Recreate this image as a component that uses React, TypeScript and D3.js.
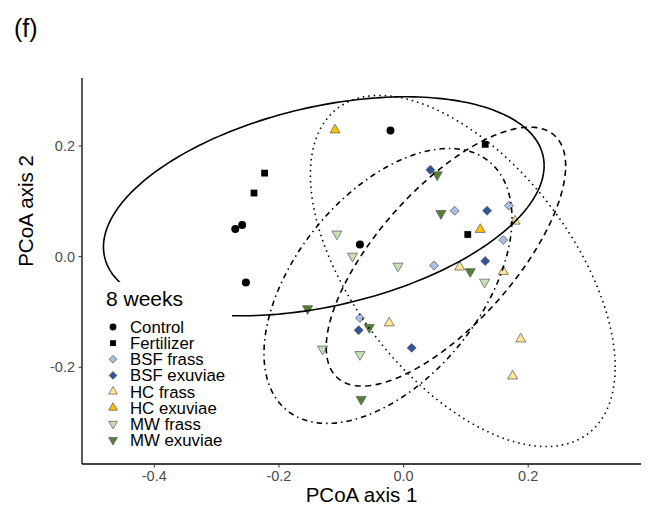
import React from 'react'
import * as d3 from 'd3'

// PCoA scores, 8 weeks
const groupNames = ['Control', 'Fertilizer', 'BSF frass', 'BSF exuviae', 'HC frass', 'HC exuviae', 'MW frass', 'MW exuviae']

const controlPts = [[-0.021, 0.228], [-0.27, 0.05], [-0.259, 0.057], [-0.253, -0.047], [-0.07, 0.022]]
const fertilizerPts = [[-0.223, 0.151], [-0.24, 0.115], [0.131, 0.203], [0.103, 0.04]]
const bsfFrassPts = [[0.082, 0.083], [0.169, 0.092], [0.16, 0.03], [0.049, -0.016], [-0.07, -0.111]]
const bsfExuviaePts = [[0.043, 0.157], [0.134, 0.083], [0.131, -0.008], [-0.072, -0.133], [0.013, -0.165]]
const hcFrassPts = [[0.179, 0.064], [0.09, -0.019], [0.16, -0.027], [-0.023, -0.12], [0.188, -0.149], [0.175, -0.216]]
const hcExuviaePts = [[-0.11, 0.229], [0.123, 0.049]]
const mwFrassPts = [[-0.107, 0.041], [-0.082, 0.001], [-0.009, -0.017], [0.13, -0.046], [-0.13, -0.167], [-0.07, -0.177]]
const mwExuviaePts = [[0.054, 0.148], [0.06, 0.078], [0.107, -0.027], [-0.154, -0.094], [-0.055, -0.128], [-0.068, -0.258]]

const groupPts = [controlPts, fertilizerPts, bsfFrassPts, bsfExuviaePts, hcFrassPts, hcExuviaePts, mwFrassPts, mwExuviaePts]

// confidence ellipses: centre and covariance (xx, yy, xy)
const ellipseNames = ['Control', 'BSF', 'HC', 'MW']
const ellipseCentres = [[-0.128, 0.091], [0.068, 0.0], [0.095, -0.026], [-0.025, -0.053]]
const ellipseCov = [[0.125, 0.0392, 0.026], [0.0369, 0.0548, 0.0315], [0.0598, 0.1008, -0.0425], [0.0396, 0.0618, 0.0243]]

const xTicks = [-0.4, -0.2, 0.0, 0.2]
const yTicks = [-0.2, 0.0, 0.2]

// styles
const fills = ['#000000', '#000000', '#A9BFE3', '#2F5597', '#FFE699', '#FFC000', '#C5E0B4', '#548235']
const shapes = ['circle', 'square', 'diamond', 'diamond', 'up', 'up', 'down', 'down']
const dashes = [null, '6 4.5', '1.5 4', '1.5 4 5.5 4']
const font = '"Liberation Sans", Arial, Helvetica, sans-serif'

const width = 649
const height = 507
const left = 82
const right = 641
const top = 78
const bottom = 464

const x = d3.scaleLinear().domain([-0.516, 0.381]).range([left, right])
const y = d3.scaleLinear().domain([-0.375, 0.323]).range([bottom, top])

// R style labels, plain hyphen for the minus
const fmt = (t) => d3.format('.1f')(t).replace('\u2212', '-')

const symbolPath = (shape, k = 1) => {
  if (shape === 'circle') return d3.symbol(d3.symbolCircle, 50 * k)()
  if (shape === 'square') return d3.symbol(d3.symbolSquare, 46 * k)()
  if (shape === 'diamond') return d3.symbol(d3.symbolSquare, 40 * k)()
  return d3.symbol(d3.symbolTriangle, 44 * k)()
}
const symbolRot = (shape) => (shape === 'diamond' ? 45 : shape === 'down' ? 180 : 0)

const ellipsePoints = (c, m) => {
  const l11 = Math.sqrt(m[0])
  const l21 = m[2] / l11
  const l22 = Math.sqrt(m[1] - l21 * l21)
  return d3.range(0, 241).map((i) => {
    const t = (i / 240) * 2 * Math.PI
    return [c[0] + l11 * Math.cos(t), c[1] + l21 * Math.cos(t) + l22 * Math.sin(t)]
  })
}

const line = d3
  .line()
  .x((d) => x(d[0]))
  .y((d) => y(d[1]))

const Mark = ({ gi, cx, cy, k = 1 }) => {
  const shape = shapes[gi]
  const black = gi < 2
  return (
    <path
      d={symbolPath(shape, k)}
      transform={`translate(${cx},${cy}) rotate(${symbolRot(shape)})`}
      fill={fills[gi]}
      stroke={black ? 'none' : '#555555'}
      strokeWidth={0.7}
    />
  )
}

const App = () => {
  const legendY = d3.scaleLinear().domain([0, 7]).range([327, 440])
  return (
    <svg width={width} height={height} style={{ position: 'absolute', left: 0, top: 0, background: '#fff' }} fontFamily={font}>
      <text x={14} y={37} fontSize={25} fill="#000">(f)</text>

      {/* points */}
      {groupPts.map((pts, gi) =>
        pts.map((p, i) => <Mark key={`${gi}-${i}`} gi={gi} cx={x(p[0])} cy={y(p[1])} />)
      )}

      {/* ellipses */}
      {ellipseNames.map((n, i) => (
        <path
          key={n}
          d={line(ellipsePoints(ellipseCentres[i], ellipseCov[i]))}
          fill="none"
          stroke="#000"
          strokeWidth={1.6}
          strokeDasharray={dashes[i] || undefined}
        />
      ))}

      {/* axes */}
      <line x1={left} x2={left} y1={top} y2={bottom} stroke="#000" strokeWidth={1.3} />
      <line x1={left} x2={right} y1={bottom} y2={bottom} stroke="#000" strokeWidth={1.3} />
      {yTicks.map((t) => (
        <g key={t}>
          <line x1={left - 3.5} x2={left} y1={y(t)} y2={y(t)} stroke="#333" strokeWidth={1} />
          <text x={left - 7} y={y(t)} dy="0.35em" textAnchor="end" fontSize={14.5} fill="#4D4D4D">
            {fmt(t)}
          </text>
        </g>
      ))}
      {xTicks.map((t) => (
        <g key={t}>
          <line x1={x(t)} x2={x(t)} y1={bottom} y2={bottom + 3.5} stroke="#333" strokeWidth={1} />
          <text x={x(t)} y={480.5} textAnchor="middle" fontSize={14.5} fill="#4D4D4D">
            {fmt(t)}
          </text>
        </g>
      ))}
      <text x={(left + right) / 2} y={502} textAnchor="middle" fontSize={20.5} fill="#000">PCoA axis 1</text>
      <text transform="translate(33,211) rotate(-90)" textAnchor="middle" fontSize={20.5} fill="#000">PCoA axis 2</text>

      {/* legend */}
      <rect x={100} y={282} width={132} height={172} fill="#fff" />
      <text x={106} y={306} fontSize={21} fill="#000">8 weeks</text>
      {groupNames.map((n, gi) => (
        <g key={n}>
          <Mark gi={gi} cx={113} cy={legendY(gi)} k={0.75} />
          <text x={130} y={legendY(gi)} dy="0.36em" fontSize={16.8} fill="#000">{n}</text>
        </g>
      ))}
    </svg>
  )
}

export default App
